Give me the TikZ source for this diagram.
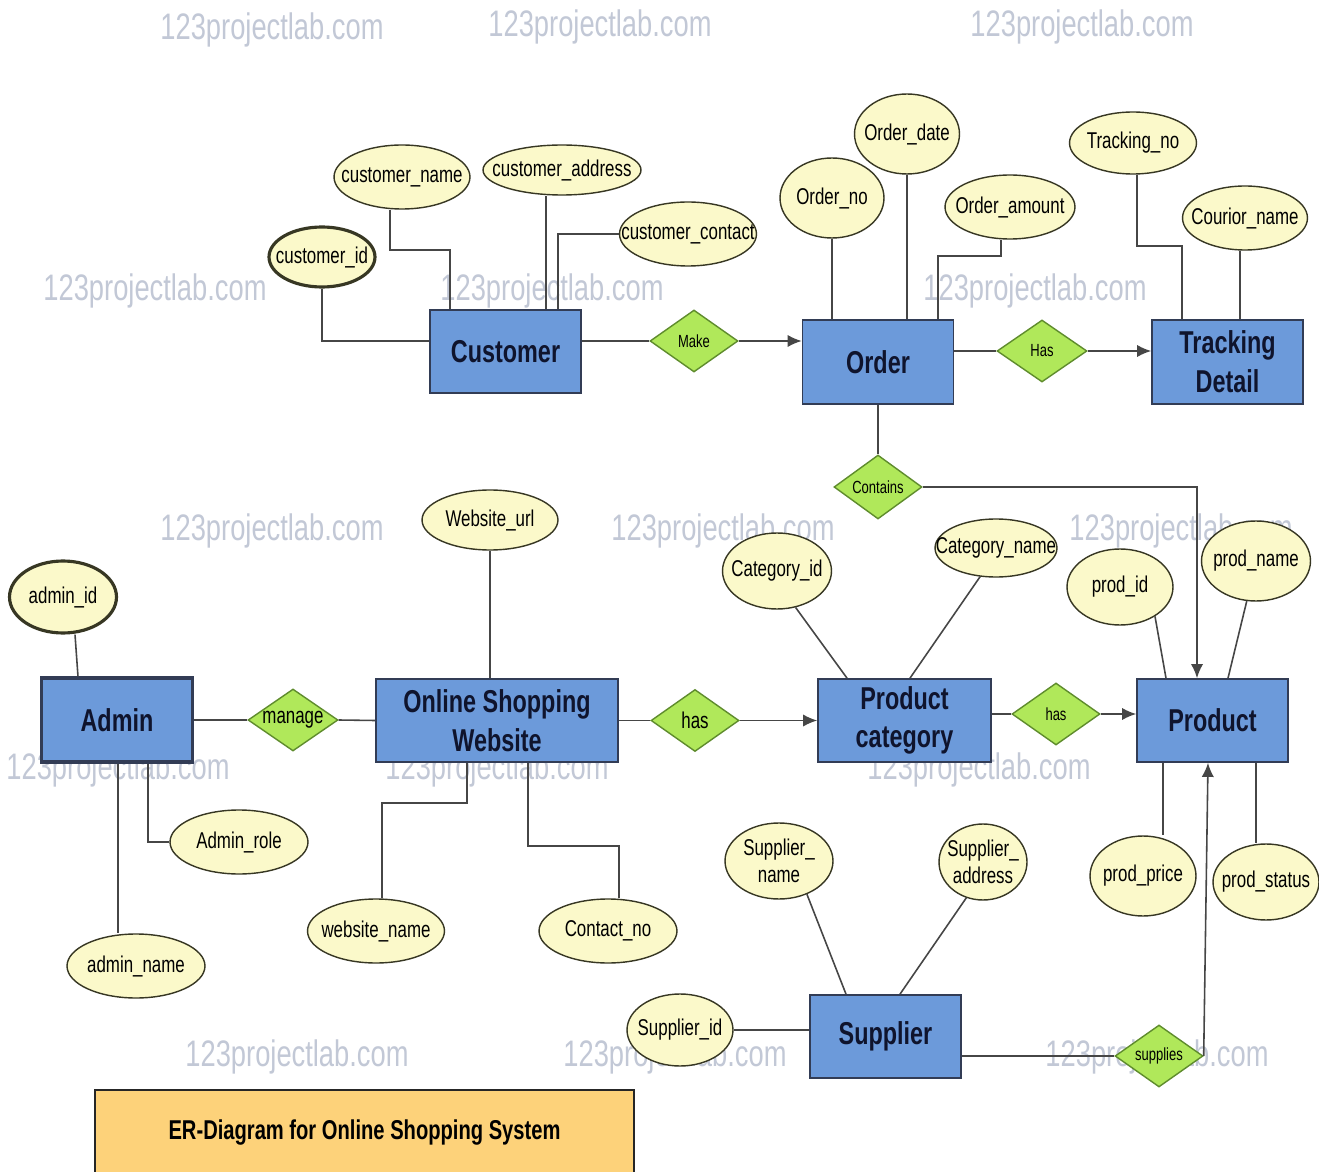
\documentclass[tikz,border=0pt]{standalone}
\usepackage{fontspec}
\setmainfont{Liberation Sans}[FakeStretch=0.74]
\usetikzlibrary{shapes.geometric,arrows.meta}
\definecolor{entfill}{RGB}{108,154,218}
\definecolor{entline}{RGB}{50,60,85}
\definecolor{enttext}{RGB}{15,20,45}
\definecolor{relfill}{RGB}{176,232,90}
\definecolor{relline}{RGB}{95,140,45}
\definecolor{attrfill}{RGB}{251,249,202}
\definecolor{attrline}{RGB}{55,55,35}
\definecolor{titlefill}{RGB}{253,210,122}
\definecolor{linkc}{RGB}{70,70,70}
\definecolor{wmark}{RGB}{194,200,214}

\begin{document}
\begin{tikzpicture}[x=0.02cm,y=-0.02cm,
  entity/.style={draw=entline,fill=entfill,line width=1pt,minimum width=3.02cm,minimum height=1.66cm,inner sep=0pt,align=center,text=enttext,font=\fontsize{18}{22}\selectfont\bfseries},
  rel/.style={diamond,aspect=1.45,draw=relline,fill=relfill,line width=0.8pt,minimum width=1.76cm,minimum height=1.24cm,inner sep=0pt,font=\fontsize{10}{12}\selectfont},
  attr/.style={ellipse,draw=attrline,fill=attrfill,line width=0.8pt,inner sep=0pt},
  every label/.append style={inner sep=0pt,align=center,font=\fontsize{13}{15}\selectfont},
  wm/.style={text=wmark,font=\fontsize{21}{24}\selectfont},
  link/.style={draw=linkc,line width=0.9pt},
  arr/.style={link,-{Latex[length=8pt,width=7pt]}}]
\fill[white] (0,0) rectangle (1319,1172);
\useasboundingbox (0,0) rectangle (1319,1172);

\node[wm] (w1) at (272,30) {123projectlab.com};
\node[wm] (w2) at (600,27) {123projectlab.com};
\node[wm] (w3) at (1082,27) {123projectlab.com};
\node[wm] (w4) at (155,291) {123projectlab.com};
\node[wm] (w5) at (552,291) {123projectlab.com};
\node[wm] (w6) at (1035,291) {123projectlab.com};
\node[wm] (w7) at (272,531) {123projectlab.com};
\node[wm] (w8) at (723,531) {123projectlab.com};
\node[wm] (w9) at (1181,531) {123projectlab.com};
\node[wm] (w10) at (118,770) {123projectlab.com};
\node[wm] (w11) at (497,770) {123projectlab.com};
\node[wm] (w12) at (979,770) {123projectlab.com};
\node[wm] (w13) at (297,1057) {123projectlab.com};
\node[wm] (w14) at (675,1057) {123projectlab.com};
\node[wm] (w15) at (1157,1057) {123projectlab.com};

\node[entity] (cust) at (505.5,351.5) {Customer};
\node[entity,minimum height=1.68cm] (order) at (878,362) {Order};
\node[entity,minimum height=1.68cm] (track) at (1227.5,362) {Tracking\\Detail};
\node[entity,minimum height=1.68cm,line width=1.8pt] (admin) at (117,720) {Admin};
\node[entity,minimum width=4.84cm] (osw) at (497,720.5) {Online Shopping\\Website};
\node[entity,minimum width=3.46cm] (pcat) at (904.5,720.5) {Product\\category};
\node[entity] (prod) at (1212.5,720.5) {Product};
\node[entity] (supp) at (885.5,1036.5) {Supplier};

\node[rel] (make) at (694,341) {Make};
\node[rel,minimum width=1.8cm] (has) at (1042,351) {Has};
\node[rel,minimum height=1.28cm] (cont) at (878,487) {Contains};
\node[rel,minimum width=1.8cm,font=\fontsize{13}{15}\selectfont] (manage) at (293,720) {manage};
\node[rel,font=\fontsize{13}{15}\selectfont] (has1) at (695,720.5) {has};
\node[rel] (has2) at (1056,714) {has};
\node[rel] (sup) at (1159,1056) {supplies};

\node[attr,minimum width=2.72cm,minimum height=1.28cm,label={center:customer\_name}] (cname) at (402,177) {};
\node[attr,minimum width=3.16cm,minimum height=1.0cm,label={center:customer\_address}] (caddr) at (562,170) {};
\node[attr,minimum width=2.74cm,minimum height=1.28cm,label={center:customer\_contact}] (ccont) at (688,234) {};
\node[attr,minimum width=2.12cm,minimum height=1.2cm,line width=1.8pt,label={center:customer\_id}] (cid) at (322,257) {};
\node[attr,minimum width=2.08cm,minimum height=1.6cm,label={center:Order\_no}] (ono) at (832,198) {};
\node[attr,minimum width=2.1cm,minimum height=1.6cm,label={center:Order\_date}] (odate) at (907,134) {};
\node[attr,minimum width=2.6cm,minimum height=1.28cm,label={center:Order\_amount}] (oamt) at (1010,207) {};
\node[attr,minimum width=2.54cm,minimum height=1.24cm,label={center:Tracking\_no}] (tno) at (1133,143) {};
\node[attr,minimum width=2.5cm,minimum height=1.28cm,label={center:Courior\_name}] (cour) at (1245,218) {};
\node[attr,minimum width=2.72cm,minimum height=1.2cm,label={center:Website\_url}] (wurl) at (490,520) {};
\node[attr,minimum width=2.14cm,minimum height=1.44cm,line width=1.8pt,label={center:admin\_id}] (aid) at (63,597) {};
\node[attr,minimum width=2.76cm,minimum height=1.28cm,label={center:Admin\_role}] (arole) at (239,842) {};
\node[attr,minimum width=2.76cm,minimum height=1.28cm,label={center:admin\_name}] (aname) at (136,966) {};
\node[attr,minimum width=2.74cm,minimum height=1.28cm,label={center:website\_name}] (wname) at (376,931) {};
\node[attr,minimum width=2.76cm,minimum height=1.28cm,label={center:Contact\_no}] (cno) at (608,931) {};
\node[attr,minimum width=2.18cm,minimum height=1.52cm,label={center:Category\_id}] (catid) at (777,571) {};
\node[attr,minimum width=2.44cm,minimum height=1.16cm,label={center:Category\_name}] (catname) at (996,548) {};
\node[attr,minimum width=2.12cm,minimum height=1.52cm,label={center:prod\_id}] (pid) at (1120,587) {};
\node[attr,minimum width=2.18cm,minimum height=1.6cm,label={center:prod\_name}] (pname) at (1256,561) {};
\node[attr,minimum width=2.12cm,minimum height=1.6cm,label={center:prod\_price}] (pprice) at (1143,876) {};
\node[attr,minimum width=2.12cm,minimum height=1.52cm,label={center:prod\_status}] (pstat) at (1266,882) {};
\node[attr,minimum width=2.16cm,minimum height=1.52cm,label={center:Supplier\_\\name}] (sname) at (779,861) {};
\node[attr,minimum width=1.76cm,minimum height=1.52cm,label={center:Supplier\_\\address}] (saddr) at (983,862) {};
\node[attr,minimum width=2.12cm,minimum height=1.44cm,label={center:Supplier\_id}] (sid) at (680,1030) {};

\node[draw=black!85,fill=titlefill,line width=0.8pt,minimum width=10.78cm,minimum height=1.7cm,font=\fontsize{15.5}{18}\selectfont\bfseries] (ttl) at (364.5,1132.5) {ER-Diagram for Online Shopping System};

\draw[link] (cid.south) |- (cust.west |- 0,341);
\draw[link] (cname.south -| 390,0) |- (450,250) -- (cust.north -| 450,0);
\draw[link] (caddr.south -| 546,0) -- (cust.north -| 546,0);
\draw[link] (ccont.west) -| (cust.north -| 558,0);
\draw[link] (cust.east |- make.west) -- (make.west);
\draw[arr] (make.east) -- (order.west |- make.east);
\draw[link] (ono.south) -- (order.north -| ono.south);
\draw[link] (odate.south) -- (order.north -| odate.south);
\draw[link] (oamt.south -| 1001,0) |- (938,256) -- (order.north -| 938,0);
\draw[link] (order.east |- has.west) -- (has.west);
\draw[arr] (has.east) -- (track.west |- has.east);
\draw[link] (tno.south -| 1137,0) |- (1182,246) -- (track.north -| 1182,0);
\draw[link] (cour.south -| 1240,0) -- (track.north -| 1240,0);
\draw[link] (order.south) -- (cont.north);
\draw[arr] (cont.east) -| (prod.north -| 1197,0);

\draw[link] (aid.south -| 75,0) -- (admin.north -| 78,0);
\draw[link] (admin.east) -- (manage.west);
\draw[link] (manage.east) -- (osw.west);
\draw[link] (wurl.south) -- (osw.north -| wurl.south);
\draw[link] (osw.east) -- (has1.west);
\draw[arr] (has1.east) -- (pcat.west);
\draw[link] (catid.-63) -- (pcat.north -| 847,0);
\draw[link] (catname.-119) -- (pcat.north -| 910,0);
\draw[link] (pcat.east |- has2.west) -- (has2.west);
\draw[arr] (has2.east) -- (prod.west |- has2.east);
\draw[link] (pid.-40) -- (prod.north -| 1166,0);
\draw[link] (pname.-103) -- (prod.north -| 1228,0);
\draw[link] (prod.south -| 1163,0) -- (pprice.north -| 1163,0);
\draw[link] (prod.south -| 1256,0) -- (pstat.north -| 1256,0);
\draw[link] (admin.south -| 118,0) -- (aname.north -| 118,0);
\draw[link] (admin.south -| 148,0) |- (arole.west);
\draw[link] (osw.south -| 467,0) |- (382,803) -- (wname.north -| 382,0);
\draw[link] (osw.south -| 528,0) |- (619,846) -- (cno.north -| 619,0);

\draw[link] (sid.east) -- (supp.west |- sid.east);
\draw[link] (sname.-50) -- (supp.north -| 846,0);
\draw[link] (saddr.-115) -- (supp.north -| 900,0);
\draw[link] (supp.east |- sup.west) -- (sup.west);
\draw[arr] (sup.east) -- (prod.south -| 1208,0);
\end{tikzpicture}
\end{document}
